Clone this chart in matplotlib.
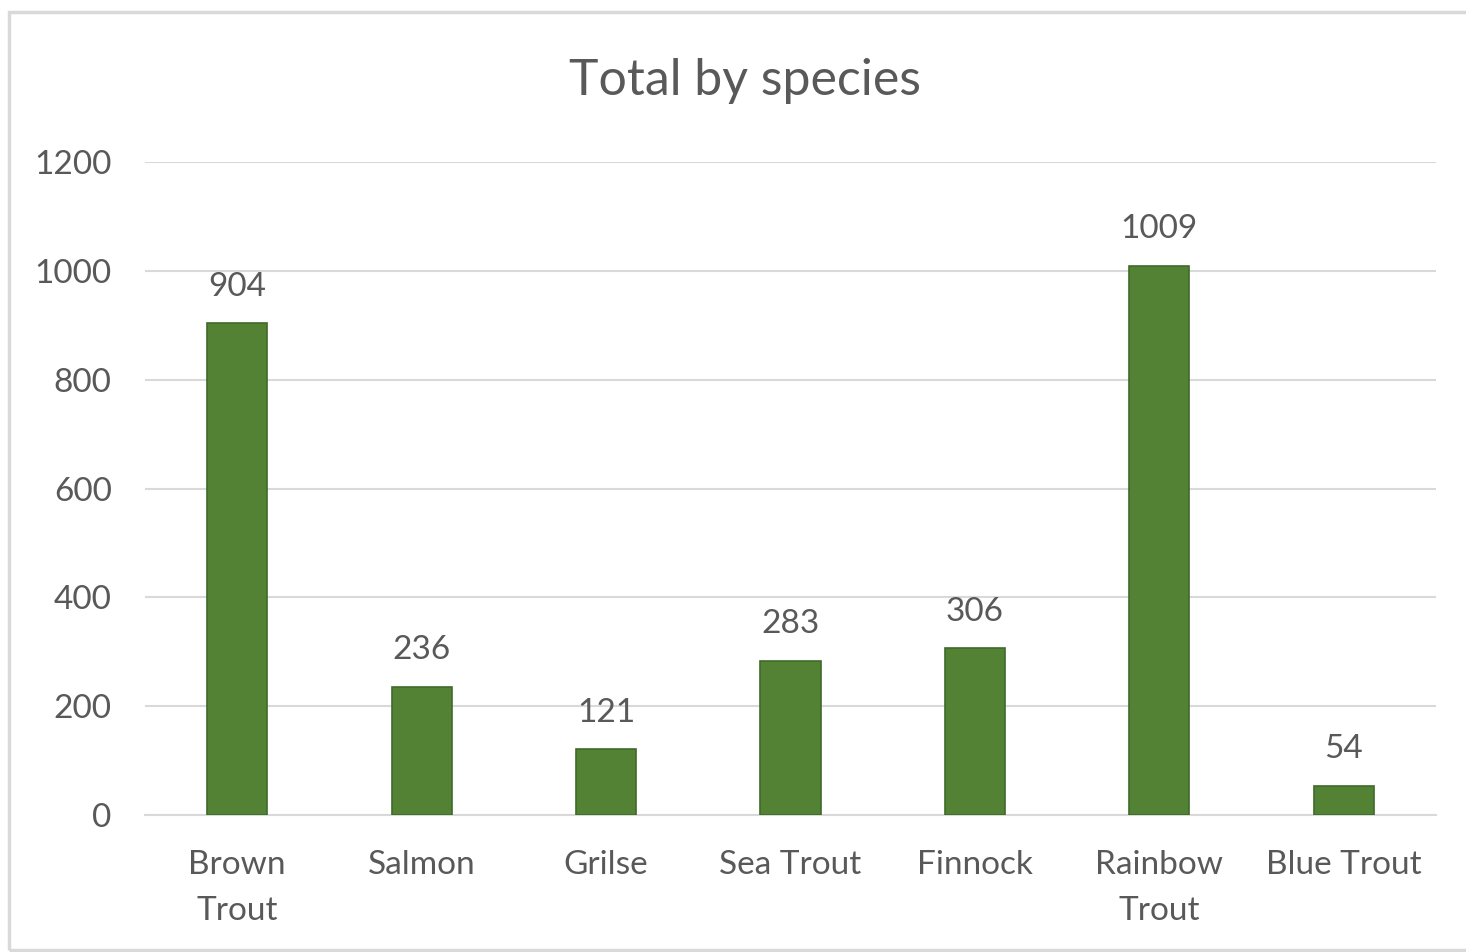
import matplotlib.pyplot as plt
from matplotlib.patches import Rectangle

species = ['Brown\nTrout', 'Salmon', 'Grilse', 'Sea Trout', 'Finnock', 'Rainbow\nTrout', 'Blue Trout']
totals = [904, 236, 121, 283, 306, 1009, 54]
yticks = [0, 200, 400, 600, 800, 1000, 1200]

plt.rcParams['font.family'] = ['Lato', 'DejaVu Sans']
text_color = '#595959'

fig = plt.figure(figsize=(14.66, 9.52), dpi=100)

# Light grey chart-area border
fig.patches.append(Rectangle((9 / 1466, 2 / 952), 1.0, 938 / 952, transform=fig.transFigure,
                             fill=False, edgecolor='#d9d9d9', linewidth=2.5))

ax = fig.add_axes([145 / 1466, 137 / 952, 1291 / 1466, 653 / 952])
x = range(len(species))
bars = ax.bar(x, totals, width=0.326, color='#548235', edgecolor='#3e6b29', linewidth=1.2, zorder=3)

for xi, v in zip(x, totals):
    ax.annotate(str(v), (xi, v), xytext=(0, 15.5), textcoords='offset points',
                ha='center', va='bottom', fontsize=24, color=text_color)

ax.set_xlim(-0.5, len(species) - 0.5)
ax.set_ylim(0, 1200)
ax.set_yticks(yticks)
ax.set_xticks(list(x))
ax.set_xticklabels(species, fontsize=24, color=text_color, linespacing=1.68)
ax.tick_params(axis='y', labelsize=24, labelcolor=text_color, length=0, pad=24)
ax.tick_params(axis='x', length=0, pad=25)
ax.yaxis.grid(True, color='#d9d9d9', linewidth=1.5, zorder=0)
for s in ['top', 'right', 'left']:
    ax.spines[s].set_visible(False)
ax.spines['bottom'].set_color('#d9d9d9')
ax.spines['bottom'].set_linewidth(1.5)

fig.text(745 / 1466, 1 - 81 / 952, 'Total by species', ha='center', va='center',
         fontsize=36, color=text_color)

fig.savefig('out.png', dpi=100)
